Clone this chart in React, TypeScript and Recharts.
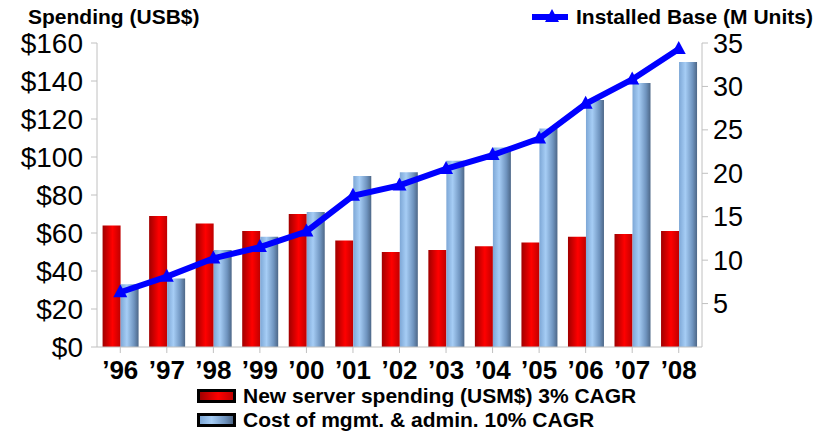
import { ComposedChart, Bar, Line, XAxis, YAxis } from 'recharts'

const years = ['’96', '’97', '’98', '’99', '’00', '’01', '’02', '’03', '’04', '’05', '’06', '’07', '’08']
const newServerSpending = [64, 69, 65, 61, 70, 56, 50, 51, 53, 55, 58, 59.5, 61]
const mgmtCost = [33, 36, 51, 58, 71, 90, 92, 98, 105, 115, 130, 139, 150]
const installedBase = [6.3, 8.1, 10.2, 11.5, 13.3, 17.4, 18.6, 20.5, 22.1, 24, 28, 30.8, 34.3]

const spendingTicks = [0, 20, 40, 60, 80, 100, 120, 140, 160]
const unitTicks = [5, 10, 15, 20, 25, 30, 35]

const leftTitle = 'Spending (USB$)'
const lineLabel = 'Installed Base (M Units)'
const redLabel = 'New server spending (USM$) 3% CAGR'
const blueLabel = 'Cost of mgmt. & admin. 10% CAGR'

const data = years.map((year, i) => ({
  year,
  spend: newServerSpending[i],
  mgmt: mgmtCost[i],
  base: installedBase[i],
}))

const font = 'Arial, "Liberation Sans", sans-serif'

function Triangle(props: any) {
  const { cx, cy } = props
  if (cx == null || cy == null) return null
  return <polygon points={`${cx},${cy - 8} ${cx - 7},${cy + 5} ${cx + 7},${cy + 5}`} fill="#0000ff" />
}

function Swatch({ fill }: { fill: string }) {
  return (
    <div
      style={{
        width: 33,
        height: 8,
        border: '3px solid #000',
        background: fill,
      }}
    />
  )
}

export default function App() {
  const redGrad = 'linear-gradient(to right, #a00000, #ff0000 55%, #c00000)'
  const blueGrad = 'linear-gradient(to right, #7da7d6, #a6cdf5 35%, #6f94bf 75%, #4d6787)'
  return (
    <div style={{ position: 'absolute', left: 0, top: 0, width: 833, height: 435, fontFamily: font }}>
      <ComposedChart
        width={833}
        height={435}
        data={data}
        margin={{ top: 43, right: 71, left: 17, bottom: 48 }}
        barCategoryGap="12%"
        barGap={0}
      >
        <defs>
          <linearGradient id="redBar" x1="0" y1="0" x2="1" y2="0">
            <stop offset="0%" stopColor="#a00000" />
            <stop offset="55%" stopColor="#ff0000" />
            <stop offset="100%" stopColor="#c00000" />
          </linearGradient>
          <linearGradient id="blueBar" x1="0" y1="0" x2="1" y2="0">
            <stop offset="0%" stopColor="#7da7d6" />
            <stop offset="35%" stopColor="#a6cdf5" />
            <stop offset="75%" stopColor="#6f94bf" />
            <stop offset="100%" stopColor="#4d6787" />
          </linearGradient>
        </defs>
        <XAxis
          dataKey="year"
          height={40}
          stroke="#c0c0c0"
          tickSize={6}
          tickMargin={8}
          interval={0}
          tick={{ fill: '#000', fontSize: 26, fontWeight: 'bold', fontFamily: font }}
        />
        <YAxis
          yAxisId="left"
          width={80}
          domain={[0, 160]}
          ticks={spendingTicks}
          tickFormatter={(v) => `$${v}`}
          stroke="#c0c0c0"
          tickSize={6}
          tickMargin={8}
          tick={{ fill: '#000', fontSize: 28, fontFamily: font }}
        />
        <YAxis
          yAxisId="right"
          orientation="right"
          width={60}
          domain={[0, 35]}
          ticks={unitTicks}
          stroke="#c0c0c0"
          tickSize={6}
          tickMargin={5}
          tick={{ fill: '#000', fontSize: 27, fontFamily: font }}
        />
        <Bar yAxisId="left" dataKey="spend" fill="url(#redBar)" isAnimationActive={false} />
        <Bar yAxisId="left" dataKey="mgmt" fill="url(#blueBar)" isAnimationActive={false} />
        <Line
          yAxisId="right"
          dataKey="base"
          type="linear"
          stroke="#0000ff"
          strokeWidth={6}
          dot={<Triangle />}
          activeDot={false}
          isAnimationActive={false}
        />
      </ComposedChart>

      <div style={{ position: 'absolute', left: 28, top: 5, fontSize: 21, fontWeight: 'bold' }}>{leftTitle}</div>

      <div style={{ position: 'absolute', left: 532, top: 5, display: 'flex', alignItems: 'center', gap: 8 }}>
        <svg width={36} height={24}>
          <line x1={0} y1={12} x2={36} y2={12} stroke="#0000ff" strokeWidth={6} />
          <polygon points="20,4 13,17 27,17" fill="#0000ff" />
        </svg>
        <span style={{ fontSize: 21, fontWeight: 'bold' }}>{lineLabel}</span>
      </div>

      <div style={{ position: 'absolute', left: 197, top: 384, display: 'flex', flexDirection: 'column', gap: 0 }}>
        <div style={{ display: 'flex', alignItems: 'center', gap: 7, height: 24 }}>
          <Swatch fill={redGrad} />
          <span style={{ fontSize: 21, fontWeight: 'bold' }}>{redLabel}</span>
        </div>
        <div style={{ display: 'flex', alignItems: 'center', gap: 7, height: 24 }}>
          <Swatch fill={blueGrad} />
          <span style={{ fontSize: 21, fontWeight: 'bold' }}>{blueLabel}</span>
        </div>
      </div>
    </div>
  )
}
